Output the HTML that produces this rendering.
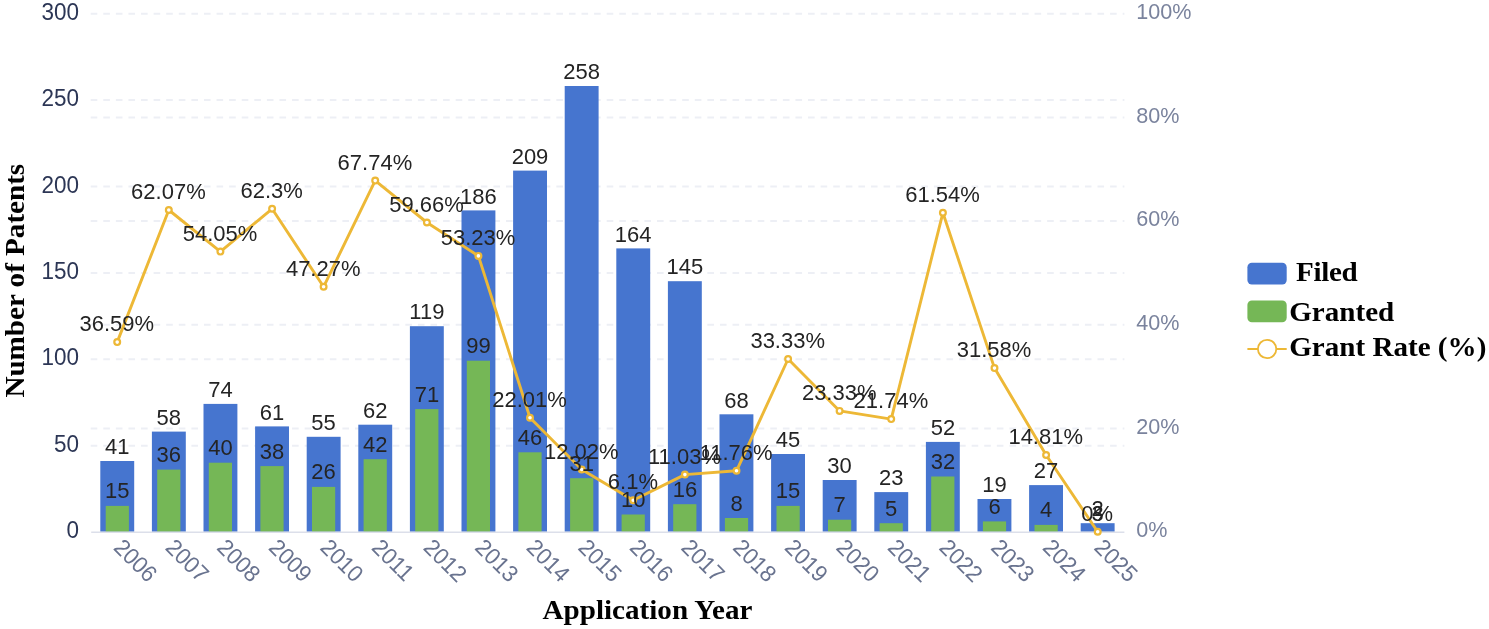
<!DOCTYPE html>
<html lang="en">
<head>
<meta charset="utf-8">
<title>Patents Filed and Granted by Application Year</title>
<style>
html,body{margin:0;padding:0;background:#fff;}
body{width:1489px;height:629px;overflow:hidden;}
svg{display:block;}
.sans{font-family:"Liberation Sans",Arial,sans-serif;}
.serif{font-family:"Liberation Serif","Times New Roman",serif;font-weight:bold;}
.yl{font-size:22.5px;fill:#2C3655;text-anchor:end;}
.yr{font-size:21.6px;fill:#7A839D;text-anchor:start;}
.xl{font-size:22.2px;fill:#69738F;text-anchor:start;}
.dl{font-size:22px;fill:#242424;text-anchor:middle;}
.ttl{font-size:29.1px;fill:#000;}
.grid line{stroke:#EDEFF5;stroke-width:2;stroke-dasharray:6.6 5.985;}
</style>
</head>
<body>
<svg width="1489" height="629" viewBox="0 0 1489 629">
<rect width="1489" height="629" fill="#ffffff"/>
<g class="grid">
<line x1="90.7" y1="13.70" x2="1124.4" y2="13.70"/>
<line x1="90.7" y1="100.10" x2="1124.4" y2="100.10"/>
<line x1="90.7" y1="117.38" x2="1124.4" y2="117.38"/>
<line x1="90.7" y1="186.50" x2="1124.4" y2="186.50"/>
<line x1="90.7" y1="221.06" x2="1124.4" y2="221.06"/>
<line x1="90.7" y1="272.90" x2="1124.4" y2="272.90"/>
<line x1="90.7" y1="324.74" x2="1124.4" y2="324.74"/>
<line x1="90.7" y1="359.30" x2="1124.4" y2="359.30"/>
<line x1="90.7" y1="428.42" x2="1124.4" y2="428.42"/>
<line x1="90.7" y1="445.70" x2="1124.4" y2="445.70"/>
</g>
<g class="sans yl">
<text transform="translate(79,538.1) scale(1,1.045)">0</text>
<text transform="translate(79,451.7) scale(1,1.045)">50</text>
<text transform="translate(79,365.3) scale(1,1.045)">100</text>
<text transform="translate(79,278.9) scale(1,1.045)">150</text>
<text transform="translate(79,192.5) scale(1,1.045)">200</text>
<text transform="translate(79,106.1) scale(1,1.045)">250</text>
<text transform="translate(79,19.7) scale(1,1.045)">300</text>
</g>
<g class="sans yr">
<text transform="translate(1136.3,537.3) scale(1,1.045)">0%</text>
<text transform="translate(1136.3,433.6) scale(1,1.045)">20%</text>
<text transform="translate(1136.3,329.9) scale(1,1.045)">40%</text>
<text transform="translate(1136.3,226.3) scale(1,1.045)">60%</text>
<text transform="translate(1136.3,122.6) scale(1,1.045)">80%</text>
<text transform="translate(1136.3,18.9) scale(1,1.045)">100%</text>
</g>
<g fill="#4675CF">
<rect x="100.3" y="461.0" width="33.9" height="70.8"/>
<rect x="151.9" y="431.6" width="33.9" height="100.2"/>
<rect x="203.5" y="403.9" width="33.9" height="127.9"/>
<rect x="255.1" y="426.4" width="33.9" height="105.4"/>
<rect x="306.7" y="436.8" width="33.9" height="95.0"/>
<rect x="358.3" y="424.7" width="33.9" height="107.1"/>
<rect x="409.9" y="326.2" width="33.9" height="205.6"/>
<rect x="461.5" y="210.4" width="33.9" height="321.4"/>
<rect x="513.1" y="170.6" width="33.9" height="361.2"/>
<rect x="564.7" y="86.0" width="33.9" height="445.8"/>
<rect x="616.3" y="248.4" width="33.9" height="283.4"/>
<rect x="667.9" y="281.2" width="33.9" height="250.6"/>
<rect x="719.5" y="414.3" width="33.9" height="117.5"/>
<rect x="771.1" y="454.0" width="33.9" height="77.8"/>
<rect x="822.7" y="480.0" width="33.9" height="51.8"/>
<rect x="874.3" y="492.1" width="33.9" height="39.7"/>
<rect x="925.9" y="441.9" width="33.9" height="89.9"/>
<rect x="977.5" y="499.0" width="33.9" height="32.8"/>
<rect x="1029.1" y="485.1" width="33.9" height="46.7"/>
<rect x="1080.7" y="523.2" width="33.9" height="8.6"/>
</g>
<g fill="#75B756">
<rect x="105.7" y="505.9" width="23.2" height="25.9"/>
<rect x="157.2" y="469.6" width="23.2" height="62.2"/>
<rect x="208.8" y="462.7" width="23.2" height="69.1"/>
<rect x="260.4" y="466.1" width="23.2" height="65.7"/>
<rect x="312.0" y="486.9" width="23.2" height="44.9"/>
<rect x="363.6" y="459.2" width="23.2" height="72.6"/>
<rect x="415.2" y="409.1" width="23.2" height="122.7"/>
<rect x="466.8" y="360.7" width="23.2" height="171.1"/>
<rect x="518.4" y="452.3" width="23.2" height="79.5"/>
<rect x="570.1" y="478.2" width="23.2" height="53.6"/>
<rect x="621.6" y="514.5" width="23.2" height="17.3"/>
<rect x="673.2" y="504.2" width="23.2" height="27.6"/>
<rect x="724.9" y="518.0" width="23.2" height="13.8"/>
<rect x="776.5" y="505.9" width="23.2" height="25.9"/>
<rect x="828.0" y="519.7" width="23.2" height="12.1"/>
<rect x="879.6" y="523.2" width="23.2" height="8.6"/>
<rect x="931.2" y="476.5" width="23.2" height="55.3"/>
<rect x="982.9" y="521.4" width="23.2" height="10.4"/>
<rect x="1034.5" y="524.9" width="23.2" height="6.9"/>
</g>
<line x1="91.2" y1="532.2" x2="1124.4" y2="532.2" stroke="#DCDFEA" stroke-width="1.4"/>
<g class="sans xl">
<text transform="translate(118.0,543.2) rotate(45) scale(1,1.045)" y="7.4">2006</text>
<text transform="translate(169.7,543.2) rotate(45) scale(1,1.045)" y="7.4">2007</text>
<text transform="translate(221.2,543.2) rotate(45) scale(1,1.045)" y="7.4">2008</text>
<text transform="translate(272.9,543.2) rotate(45) scale(1,1.045)" y="7.4">2009</text>
<text transform="translate(324.4,543.2) rotate(45) scale(1,1.045)" y="7.4">2010</text>
<text transform="translate(376.1,543.2) rotate(45) scale(1,1.045)" y="7.4">2011</text>
<text transform="translate(427.7,543.2) rotate(45) scale(1,1.045)" y="7.4">2012</text>
<text transform="translate(479.2,543.2) rotate(45) scale(1,1.045)" y="7.4">2013</text>
<text transform="translate(530.8,543.2) rotate(45) scale(1,1.045)" y="7.4">2014</text>
<text transform="translate(582.5,543.2) rotate(45) scale(1,1.045)" y="7.4">2015</text>
<text transform="translate(634.0,543.2) rotate(45) scale(1,1.045)" y="7.4">2016</text>
<text transform="translate(685.6,543.2) rotate(45) scale(1,1.045)" y="7.4">2017</text>
<text transform="translate(737.2,543.2) rotate(45) scale(1,1.045)" y="7.4">2018</text>
<text transform="translate(788.9,543.2) rotate(45) scale(1,1.045)" y="7.4">2019</text>
<text transform="translate(840.4,543.2) rotate(45) scale(1,1.045)" y="7.4">2020</text>
<text transform="translate(892.0,543.2) rotate(45) scale(1,1.045)" y="7.4">2021</text>
<text transform="translate(943.6,543.2) rotate(45) scale(1,1.045)" y="7.4">2022</text>
<text transform="translate(995.2,543.2) rotate(45) scale(1,1.045)" y="7.4">2023</text>
<text transform="translate(1046.9,543.2) rotate(45) scale(1,1.045)" y="7.4">2024</text>
<text transform="translate(1098.5,543.2) rotate(45) scale(1,1.045)" y="7.4">2025</text>
</g>
<polyline fill="none" stroke="#EDB836" stroke-width="2.9" stroke-linejoin="round" points="117.2,342.1 168.8,210.0 220.4,251.6 272.1,208.8 323.6,286.8 375.2,180.6 426.9,222.5 478.4,255.9 530.0,417.7 581.7,469.5 633.2,500.2 684.9,474.6 736.5,470.8 788.1,359.0 839.6,410.9 891.2,419.1 942.9,212.8 994.5,368.1 1046.1,455.0 1097.7,531.8"/>
<g fill="#fff" stroke="#EDB836" stroke-width="2.2">
<circle cx="117.2" cy="342.1" r="2.9"/>
<circle cx="168.8" cy="210.0" r="2.9"/>
<circle cx="220.4" cy="251.6" r="2.9"/>
<circle cx="272.1" cy="208.8" r="2.9"/>
<circle cx="323.6" cy="286.8" r="2.9"/>
<circle cx="375.2" cy="180.6" r="2.9"/>
<circle cx="426.9" cy="222.5" r="2.9"/>
<circle cx="478.4" cy="255.9" r="2.9"/>
<circle cx="530.0" cy="417.7" r="2.9"/>
<circle cx="581.7" cy="469.5" r="2.9"/>
<circle cx="633.2" cy="500.2" r="2.9"/>
<circle cx="684.9" cy="474.6" r="2.9"/>
<circle cx="736.5" cy="470.8" r="2.9"/>
<circle cx="788.1" cy="359.0" r="2.9"/>
<circle cx="839.6" cy="410.9" r="2.9"/>
<circle cx="891.2" cy="419.1" r="2.9"/>
<circle cx="942.9" cy="212.8" r="2.9"/>
<circle cx="994.5" cy="368.1" r="2.9"/>
<circle cx="1046.1" cy="455.0" r="2.9"/>
<circle cx="1097.7" cy="531.8" r="2.9"/>
</g>
<g class="sans dl">
<text transform="translate(117.2,454.2) scale(1,1.045)">41</text>
<text transform="translate(168.8,424.8) scale(1,1.045)">58</text>
<text transform="translate(220.4,397.1) scale(1,1.045)">74</text>
<text transform="translate(272.1,419.6) scale(1,1.045)">61</text>
<text transform="translate(323.6,430.0) scale(1,1.045)">55</text>
<text transform="translate(375.2,417.9) scale(1,1.045)">62</text>
<text transform="translate(426.9,319.4) scale(1,1.045)">119</text>
<text transform="translate(478.4,203.6) scale(1,1.045)">186</text>
<text transform="translate(530.0,163.8) scale(1,1.045)">209</text>
<text transform="translate(581.7,79.2) scale(1,1.045)">258</text>
<text transform="translate(633.2,241.6) scale(1,1.045)">164</text>
<text transform="translate(684.9,274.4) scale(1,1.045)">145</text>
<text transform="translate(736.5,407.5) scale(1,1.045)">68</text>
<text transform="translate(788.1,447.2) scale(1,1.045)">45</text>
<text transform="translate(839.6,473.2) scale(1,1.045)">30</text>
<text transform="translate(891.2,485.3) scale(1,1.045)">23</text>
<text transform="translate(942.9,435.1) scale(1,1.045)">52</text>
<text transform="translate(994.5,492.2) scale(1,1.045)">19</text>
<text transform="translate(1046.1,478.3) scale(1,1.045)">27</text>
<text transform="translate(1097.7,516.4) scale(1,1.045)">2</text>
<text transform="translate(117.2,498.4) scale(1,1.045)">15</text>
<text transform="translate(168.8,462.1) scale(1,1.045)">36</text>
<text transform="translate(220.4,455.2) scale(1,1.045)">40</text>
<text transform="translate(272.1,458.6) scale(1,1.045)">38</text>
<text transform="translate(323.6,479.4) scale(1,1.045)">26</text>
<text transform="translate(375.2,451.7) scale(1,1.045)">42</text>
<text transform="translate(426.9,401.6) scale(1,1.045)">71</text>
<text transform="translate(478.4,353.2) scale(1,1.045)">99</text>
<text transform="translate(530.0,444.8) scale(1,1.045)">46</text>
<text transform="translate(581.7,470.7) scale(1,1.045)">31</text>
<text transform="translate(633.2,507.0) scale(1,1.045)">10</text>
<text transform="translate(684.9,496.7) scale(1,1.045)">16</text>
<text transform="translate(736.5,510.5) scale(1,1.045)">8</text>
<text transform="translate(788.1,498.4) scale(1,1.045)">15</text>
<text transform="translate(839.6,512.2) scale(1,1.045)">7</text>
<text transform="translate(891.2,515.7) scale(1,1.045)">5</text>
<text transform="translate(942.9,469.0) scale(1,1.045)">32</text>
<text transform="translate(994.5,513.9) scale(1,1.045)">6</text>
<text transform="translate(1046.1,517.4) scale(1,1.045)">4</text>
<text transform="translate(1097.7,521.3) scale(1,1.045)">3</text>
<text transform="translate(116.8,331.3) scale(1,1.045)">36.59%</text>
<text transform="translate(168.4,199.2) scale(1,1.045)">62.07%</text>
<text transform="translate(220.0,240.8) scale(1,1.045)">54.05%</text>
<text transform="translate(271.7,198.0) scale(1,1.045)">62.3%</text>
<text transform="translate(323.2,276.0) scale(1,1.045)">47.27%</text>
<text transform="translate(374.9,169.8) scale(1,1.045)">67.74%</text>
<text transform="translate(426.5,211.7) scale(1,1.045)">59.66%</text>
<text transform="translate(478.1,245.1) scale(1,1.045)">53.23%</text>
<text transform="translate(529.6,406.9) scale(1,1.045)">22.01%</text>
<text transform="translate(581.3,458.7) scale(1,1.045)">12.02%</text>
<text transform="translate(632.9,489.4) scale(1,1.045)">6.1%</text>
<text transform="translate(684.5,463.8) scale(1,1.045)">11.03%</text>
<text transform="translate(736.1,460.0) scale(1,1.045)">11.76%</text>
<text transform="translate(787.7,348.2) scale(1,1.045)">33.33%</text>
<text transform="translate(839.2,400.1) scale(1,1.045)">23.33%</text>
<text transform="translate(890.9,408.3) scale(1,1.045)">21.74%</text>
<text transform="translate(942.5,202.0) scale(1,1.045)">61.54%</text>
<text transform="translate(994.1,357.3) scale(1,1.045)">31.58%</text>
<text transform="translate(1045.7,444.2) scale(1,1.045)">14.81%</text>
<text transform="translate(1097.2,521.0) scale(1,1.045)">0%</text>
</g>
<text class="serif ttl" text-anchor="middle" transform="translate(24,280.7) rotate(-90) scale(1,0.96)">Number of Patents</text>
<text class="serif ttl" text-anchor="middle" transform="translate(647.5,618.8) scale(1,0.96)">Application Year</text>
<rect x="1247.4" y="262.7" width="39.3" height="21.8" rx="4.5" fill="#4675CF"/>
<text class="serif ttl" transform="translate(1289.2,281.2) scale(1,0.96)" letter-spacing="-0.35" xml:space="preserve"> Filed</text>
<rect x="1247.4" y="300.5" width="39.3" height="21.8" rx="4.5" fill="#75B756"/>
<text class="serif ttl" transform="translate(1289.2,320.6) scale(1,0.96)">Granted</text>
<line x1="1247.4" y1="349" x2="1286.7" y2="349" stroke="#EDB836" stroke-width="1.8"/>
<circle cx="1267.1" cy="349" r="9.2" fill="#fff" stroke="#EDB836" stroke-width="1.8"/>
<text class="serif ttl" transform="translate(1289.2,356.2) scale(1,0.96)">Grant Rate (%)</text>
</svg>
</body>
</html>
